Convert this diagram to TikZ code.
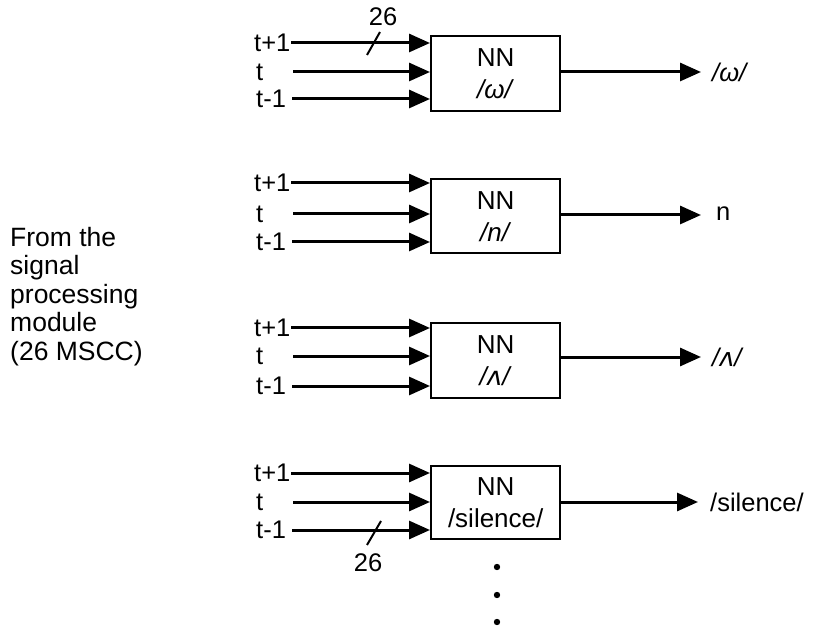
\documentclass[tikz,border=0pt]{standalone}
\usepackage{fontspec}
\setmainfont{Liberation Sans}
\newfontfamily\ipafont{DejaVu Sans}
\usetikzlibrary{arrows.meta}
\begin{document}
\begin{tikzpicture}[x=1pt,y=-1pt,
  lbl/.style={inner sep=0pt,font=\fontsize{25.5}{28}\selectfont},
  nnbox/.style={draw,line width=2.4pt,inner sep=0pt,align=center,font=\fontsize{26}{32}\selectfont},
  inarrow/.style={line width=3pt,-{Triangle[length=21pt,width=18pt]}},
  tick/.style={line width=2pt}]
\useasboundingbox (0,0) rectangle (814,628);
% left text
\node[lbl,anchor=north west,align=left,font=\fontsize{26.5}{28.5}\selectfont] (src) at (10,227) {From the\\signal\\processing\\module\\(26 MSCC)};
% blocks
\foreach \i/\ya/\yb/\yc/\bt/\bb/\ph in {
  1/43/72/99/35/110/{\textit{/ω/}},
  2/183/214/242/178/252/{\textit{/n/}},
  3/328/356/386/322/397/{\textit{/{\ipafont ʌ}/}},
  4/473/502/530/465/538/{/silence/}}{
  \node[nnbox,anchor=north west,minimum width=129pt,minimum height={\bb-\bt}] (box\i) at (430,\bt) {NN\\\ph};
  \node[lbl,anchor=west] (p\i) at (254,\ya) {t+1};
  \node[lbl,anchor=west] (c\i) at (256,\yb) {t};
  \node[lbl,anchor=west] (m\i) at (256,\yc) {t-1};
  \coordinate (sa\i) at (291,\ya);
  \coordinate (sb\i) at (293,\yb);
  \coordinate (sc\i) at (292,\yc);
  \draw[inarrow] (sa\i) -- (box\i.west |- sa\i);
  \draw[inarrow] (sb\i) -- (box\i.west |- sb\i);
  \draw[inarrow] (sc\i) -- (box\i.west |- sc\i);
}
% outputs
\coordinate (o1) at (701,72);
\coordinate (o2) at (701,215);
\coordinate (o3) at (701,357);
\coordinate (o4) at (698,502);
\draw[inarrow] (box1.east |- o1) -- (o1);
\draw[inarrow] (box2.east |- o2) -- (o2);
\draw[inarrow] (box3.east |- o3) -- (o3);
\draw[inarrow] (box4.east |- o4) -- (o4);
\node[lbl,anchor=west] (l1) at (712,72) {\textit{/ω/}};
\node[lbl,anchor=west] (l2) at (716,214) {n};
\node[lbl,anchor=west] (l3) at (712,357) {\textit{/{\ipafont ʌ}/}};
\node[lbl,anchor=west] (l4) at (710,502) {/silence/};
% 26 ticks
\draw[tick] (367,55) -- (380,32);
\node[lbl] (n26a) at (383,17) {26};
\draw[tick] (367,545) -- (381,521);
\node[lbl] (n26b) at (368,563) {26};
% dots
\foreach \y in {567,595,622} \fill (497,\y) circle (3.2pt);
\end{tikzpicture}
\end{document}
